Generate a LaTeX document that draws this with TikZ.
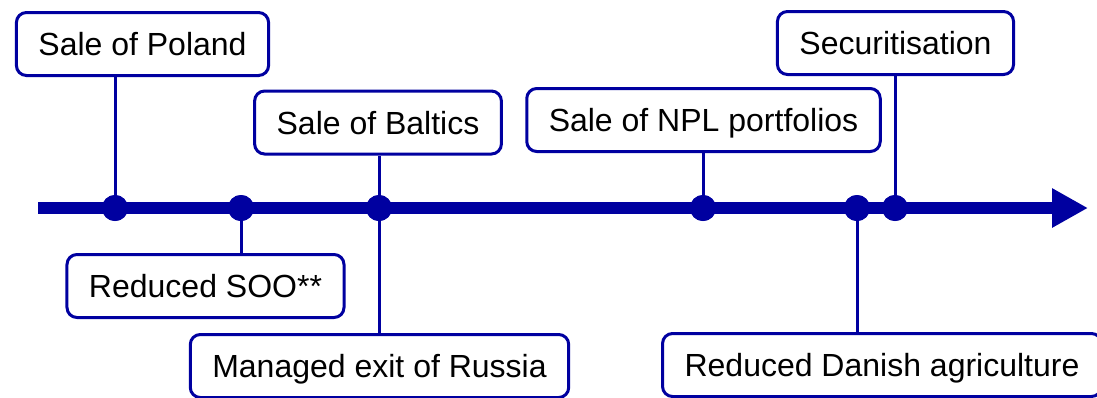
\documentclass[tikz,border=0pt]{standalone}
\usepackage{fontspec}
\setmainfont{Liberation Sans}
\usetikzlibrary{arrows.meta}
\definecolor{tlblue}{RGB}{0,0,160}
\tikzset{
  event/.style={rectangle,draw=tlblue,line width=1.5pt,rounded corners=5pt,fill=white,
    inner xsep=11pt,inner ysep=0pt,minimum height=31.5pt,text height=11.5pt,text depth=0pt,
    font=\fontsize{16}{19}\selectfont},
  dot/.style={circle,fill=tlblue,inner sep=0pt,minimum size=13pt},
  link/.style={draw=tlblue,line width=1.5pt},
  axis/.style={draw=tlblue,line width=6pt,-{Triangle[length=18pt,width=18.5pt]}}
}
\begin{document}
\begin{tikzpicture}[x=0.5pt,y=-0.5pt]
            \useasboundingbox (0,0) rectangle (1097,397);
            \coordinate(start) at (38,208);
            \coordinate(end) at (1088,208);
            \node(d1)[dot] at (115,208){};
            \node(d2)[dot] at (241,208){};
            \node(d3)[dot] at (379,208){};
            \node(d4)[dot] at (703,208){};
            \node(d5)[dot] at (857,208){};
            \node(d6)[dot] at (895,208){};
            \node(poland)[event] at (142.5,44){Sale of Poland};
            \node(baltics)[event] at (378,122.5){Sale of Baltics};
            \node(npl)[event] at (703.5,120){Sale of NPL portfolios};
            \node(secur)[event] at (895.5,43){Securitisation};
            \node(soo)[event] at (205.5,286){Reduced SOO**};
            \node(russia)[event] at (379.5,366){Managed exit of Russia};
            \node(danish)[event] at (882,365){Reduced Danish agriculture};
            \draw[link] (d1.center) -- (d1.center |- poland.south);
            \draw[link] (d2.center) -- (d2.center |- soo.north);
            \draw[link] (d3.center) -- (d3.center |- baltics.south);
            \draw[link] (d3.center) -- (d3.center |- russia.north);
            \draw[link] (d4.center) -- (d4.center |- npl.south);
            \draw[link] (d5.center) -- (d5.center |- danish.north);
            \draw[link] (d6.center) -- (d6.center |- secur.south);
            \draw[axis] (start) -- (end);
            \foreach \d in {d1,d2,d3,d4,d5,d6}
                \node[dot] at (\d){};
        \end{tikzpicture}
\end{document}
